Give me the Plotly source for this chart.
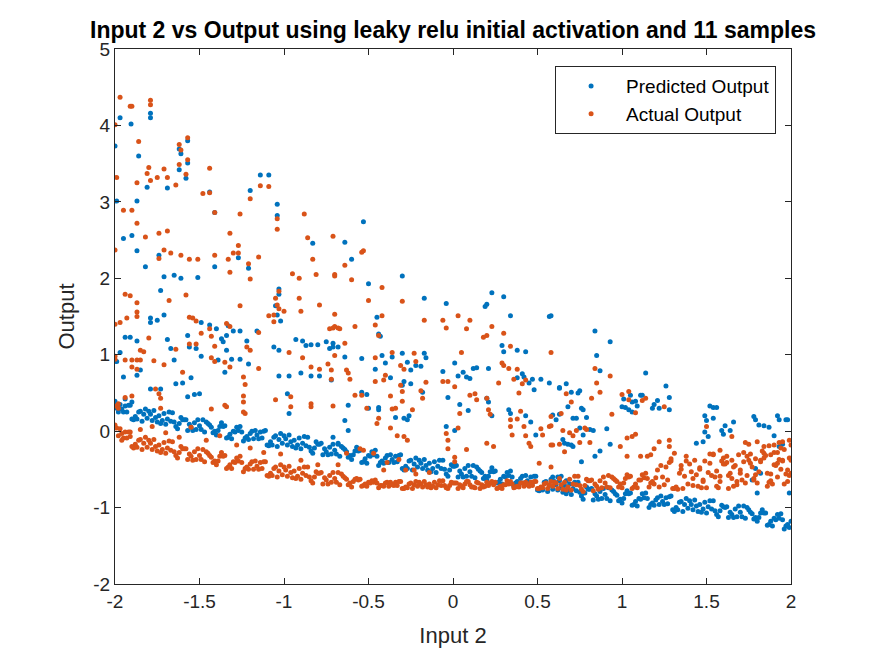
import plotly.graph_objects as go

# Predicted output: points scattered above the main band
pred_upper = [
    (-1.97, 4.10), (-1.905, 4.02), (-1.79, 4.16), (-1.79, 4.10), (-2.0, 3.73), (-1.86, 3.60),
    (-1.62, 3.69), (-1.61, 3.63), (-1.57, 3.80), (-1.57, 3.51), (-1.62, 3.42), (-1.58, 3.31),
    (-1.81, 3.19), (-1.69, 3.18), (-1.99, 3.01), (-1.87, 3.01), (-1.95, 2.52), (-1.90, 2.56),
    (-1.87, 2.36), (-1.82, 2.15), (-1.74, 2.30), (-1.71, 2.02), (-1.65, 2.04), (-1.61, 2.00),
    (-1.51, 2.01), (-1.44, 3.13), (-1.41, 2.86), (-1.20, 3.15), (-1.14, 3.35), (-1.09, 3.35),
    (-1.27, 2.27), (-1.41, 2.15), (-1.21, 2.13), (-1.04, 2.97), (-1.04, 2.82), (-0.83, 2.46),
    (-1.73, 1.84), (-1.99, 0.91), (-1.97, 1.03), (-1.94, 1.23), (-1.91, 1.23), (-1.87, 1.18),
    (-1.95, 0.71), (-1.87, 0.73), (-1.85, 0.80), (-1.79, 1.48), (-1.79, 1.42), (-1.75, 1.45),
    (-1.71, 1.52), (-1.69, 1.20), (-1.67, 1.08), (-1.65, 0.93), (-1.64, 0.62), (-1.60, 0.63),
    (-1.57, 1.25), (-1.56, 1.10), (-1.52, 1.08), (-1.55, 0.70), (-1.49, 1.42), (-1.49, 0.98),
    (-1.57, 0.45), (-1.53, 0.48), (-1.50, 0.49), (-1.79, 0.55), (-1.73, 0.55), (-2.0, 0.39),
    (-1.99, 0.30), (-1.94, 0.42), (-1.90, 0.38),
    (-1.44, 1.39), (-1.40, 1.34), (-1.37, 1.21), (-1.34, 1.25), (-1.33, 1.38), (-1.30, 1.31),
    (-1.26, 1.31), (-1.36, 1.17), (-1.34, 1.06), (-1.39, 0.93), (-1.35, 0.77), (-1.31, 0.94),
    (-1.26, 0.94), (-1.22, 1.18), (-1.16, 1.31), (-1.21, 0.88), (-1.06, 1.10), (-1.03, 1.06),
    (-1.03, 1.79), (-1.03, 1.86), (-1.05, 1.64), (-1.04, 1.52), (-1.02, 1.44), (-1.03, 0.72),
    (-0.97, 0.72), (-0.98, 0.49), (-0.97, 0.23), (-0.93, 1.20), (-0.89, 1.18), (-0.87, 1.12),
    (-0.84, 1.13), (-0.80, 1.13), (-0.75, 1.17), (-0.73, 1.08), (-0.71, 1.10), (-0.90, 0.76),
    (-0.84, 0.72), (-0.79, 0.72), (-0.72, 0.67),
    (-0.53, 2.74), (-0.64, 2.47), (-0.60, 2.25), (-0.50, 1.93), (-0.30, 2.03), (-0.17, 1.74),
    (-0.04, 1.67), (0.23, 1.81), (0.30, 1.76), (0.34, 1.51), (0.57, 1.50), (0.19, 1.63),
    (0.20, 1.66), (-0.45, 1.49), (-0.44, 1.27), (-0.43, 1.24), (-0.71, 1.15), (-0.68, 1.10),
    (-0.64, 0.97), (-0.54, 0.95), (-0.46, 0.81), (-0.42, 0.99), (-0.40, 0.89), (-0.36, 0.97),
    (-0.30, 1.02), (-0.27, 0.90), (-0.17, 1.02), (-0.16, 0.96), (-0.25, 0.80), (-0.22, 0.86),
    (-0.19, 0.85), (-0.37, 0.70), (-0.29, 0.65), (-0.30, 0.60), (-0.25, 0.62), (-0.18, 0.51),
    (-0.06, 0.78), (-0.03, 0.44), (0.01, 0.89), (0.03, 0.72), (0.06, 0.77), (0.08, 0.71),
    (0.10, 0.69), (0.12, 0.82), (0.14, 0.83), (0.04, 0.35), (0.09, 0.27), (-0.04, 0.06),
    (0.01, 0.01), (0.20, 0.43), (0.21, 0.38), (0.23, 0.20), (0.21, 0.82), (0.29, 1.12),
    (0.30, 1.04), (0.38, 1.06), (0.43, 1.04), (0.38, 0.70), (0.41, 0.75), (0.42, 0.71),
    (0.45, 0.63), (0.47, 0.68), (0.48, 0.54), (0.52, 0.68), (0.57, 0.63), (0.33, 0.28),
    (0.34, 0.23), (0.43, 0.20), (0.46, 0.12), (0.49, -0.05), (0.63, 0.56), (0.63, 0.22),
    (-0.62, 0.34), (-0.64, 0.14), (-0.62, 0.01), (-0.54, 0.51), (-0.51, 0.48), (-0.50, 0.30),
    (-0.44, 0.31), (-0.44, 0.28), (-0.34, 0.18), (-0.29, 0.17), (-0.26, 0.20), (-0.27, 0.15),
    (-0.71, -0.08), (-0.68, -0.16),
    (0.58, 1.51), (0.84, 1.31), (0.85, 0.99), (0.87, 0.79), (0.93, 1.17), (1.14, 0.76),
    (1.26, 0.59), (1.28, 0.44), (1.28, 0.28), (1.21, 0.40), (1.19, 0.35), (1.18, 0.30),
    (1.22, 0.30), (1.11, 0.47), (1.12, 0.47), (1.08, 0.39), (1.09, 0.33), (1.06, 0.38),
    (1.02, 0.31), (1.05, 0.47), (1.01, 0.42), (1.00, 0.32), (1.04, 0.28), (1.06, 0.25),
    (0.59, 0.21), (0.61, 0.15), (0.63, 0.57), (0.67, 0.62), (0.70, 0.51), (0.75, 0.53),
    (0.74, 0.50), (0.68, 0.32), (0.71, 0.17), (0.73, 0.17), (0.76, 0.30), (0.77, 0.28),
    (0.79, 0.18), (0.75, 0.04), (0.77, -0.05), (0.81, 0.02), (0.83, 0.01), (0.65, -0.11),
    (0.66, -0.16), (0.68, -0.17), (0.70, -0.18), (0.71, -0.20), (0.84, -0.33), (0.91, 0.03),
    (0.93, -0.17), (0.87, -0.26), (0.76, -0.40), (0.59, -0.60), (0.62, -0.60), (0.64, -0.59),
    (0.67, -0.65),
    (1.49, 0.20), (1.52, 0.33), (1.54, 0.31), (1.56, 0.31), (1.54, 0.17), (1.50, 0.14),
    (1.49, -0.01), (1.48, -0.14), (1.44, -0.16), (1.51, -0.07), (1.59, 0.01), (1.61, 0.07),
    (1.66, 0.12), (1.64, 0.01), (1.60, -0.04), (1.78, 0.19), (1.79, 0.15), (1.81, 0.08),
    (1.84, 0.07), (1.87, 0.05), (1.92, 0.20), (1.93, 0.15), (1.97, 0.15), (1.98, 0.15),
    (1.90, -0.06), (1.93, -0.20), (1.95, -0.17), (1.79, -0.49), (1.82, -0.55), (1.77, -0.64),
    (1.80, -0.81), (1.99, -0.81),
]

# Predicted output: dense descending band
pred_band = [
    (-1.99, 0.34), (-1.95, 0.25), (-1.91, 0.34), (-1.87, 0.16), (-1.83, 0.22), (-1.79, 0.22),
    (-1.75, 0.12), (-1.71, 0.23), (-1.67, 0.13), (-1.63, 0.03), (-1.59, 0.15), (-1.55, 0.05),
    (-1.51, 0.15), (-1.47, -0.01), (-1.43, 0.05), (-1.39, 0.01), (-1.35, 0.07), (-1.31, -0.10),
    (-1.27, 0.01), (-1.23, -0.09), (-1.19, 0.00), (-1.15, -0.10), (-1.11, 0.01), (-1.07, -0.18),
    (-1.03, -0.11), (-0.99, -0.10), (-0.95, -0.20), (-0.91, -0.09), (-0.87, -0.19), (-0.83, -0.29),
    (-0.79, -0.17), (-0.75, -0.27), (-0.71, -0.17), (-0.67, -0.33), (-0.63, -0.27), (-0.59, -0.31),
    (-0.55, -0.25), (-0.51, -0.42), (-0.47, -0.31), (-0.43, -0.41), (-0.39, -0.32), (-0.35, -0.41),
    (-0.31, -0.31), (-0.27, -0.49), (-0.23, -0.43), (-0.19, -0.42), (-0.15, -0.51), (-0.11, -0.40),
    (-0.07, -0.49), (-0.03, -0.59), (0.01, -0.46), (0.05, -0.56), (0.09, -0.45), (0.13, -0.61),
    (0.17, -0.54), (0.21, -0.59), (0.25, -0.52), (0.29, -0.69), (0.33, -0.58), (0.37, -0.68),
    (0.41, -0.59), (0.45, -0.69), (0.49, -0.59), (0.53, -0.77), (0.57, -0.71), (0.61, -0.70),
    (0.65, -0.80), (0.69, -0.69), (0.73, -0.78), (0.77, -0.89), (0.81, -0.76), (0.85, -0.85),
    (0.89, -0.75), (0.93, -0.91), (0.97, -0.84), (1.01, -0.88), (1.05, -0.81), (1.09, -0.98),
    (1.13, -0.87), (1.17, -0.96), (1.21, -0.87), (1.25, -0.96), (1.29, -0.85), (1.33, -1.03),
    (1.37, -0.96), (1.41, -0.96), (1.45, -1.05), (1.49, -0.93), (1.53, -1.02), (1.57, -1.12),
    (1.61, -1.00), (1.65, -1.09), (1.69, -0.98), (1.73, -1.14), (1.77, -1.08), (1.81, -1.13),
    (1.85, -1.07), (1.89, -1.24), (1.93, -1.14), (1.97, -1.24),
    (-1.97, 0.35), (-1.93, 0.25), (-1.89, 0.15), (-1.85, 0.26), (-1.81, 0.17), (-1.77, 0.27),
    (-1.73, 0.10), (-1.69, 0.16), (-1.65, 0.12), (-1.61, 0.18), (-1.57, 0.01), (-1.53, 0.11),
    (-1.49, 0.02), (-1.45, 0.10), (-1.41, 0.00), (-1.37, 0.11), (-1.33, -0.08), (-1.29, -0.01),
    (-1.25, -0.01), (-1.21, -0.11), (-1.17, 0.01), (-1.13, -0.09), (-1.09, -0.19), (-1.05, -0.06),
    (-1.01, -0.16), (-0.97, -0.05), (-0.93, -0.22), (-0.89, -0.16), (-0.85, -0.21), (-0.81, -0.14),
    (-0.77, -0.31), (-0.73, -0.21), (-0.69, -0.30), (-0.65, -0.22), (-0.61, -0.32), (-0.57, -0.21),
    (-0.53, -0.40), (-0.49, -0.33), (-0.45, -0.33), (-0.41, -0.42), (-0.37, -0.31), (-0.33, -0.40),
    (-0.29, -0.51), (-0.25, -0.38), (-0.21, -0.47), (-0.17, -0.37), (-0.13, -0.53), (-0.09, -0.46),
    (-0.05, -0.50), (-0.01, -0.44), (0.03, -0.60), (0.07, -0.49), (0.11, -0.59), (0.15, -0.50),
    (0.19, -0.59), (0.23, -0.48), (0.27, -0.67), (0.31, -0.60), (0.35, -0.60), (0.39, -0.70),
    (0.43, -0.58), (0.47, -0.68), (0.51, -0.78), (0.55, -0.66), (0.59, -0.76), (0.63, -0.65),
    (0.67, -0.82), (0.71, -0.75), (0.75, -0.80), (0.79, -0.73), (0.83, -0.90), (0.87, -0.79),
    (0.91, -0.88), (0.95, -0.79), (0.99, -0.89), (1.03, -0.78), (1.07, -0.96), (1.11, -0.89),
    (1.15, -0.88), (1.19, -0.97), (1.23, -0.85), (1.27, -0.95), (1.31, -1.05), (1.35, -0.92),
    (1.39, -1.01), (1.43, -0.90), (1.47, -1.06), (1.51, -0.99), (1.55, -1.04), (1.59, -0.97),
    (1.63, -1.13), (1.67, -1.02), (1.71, -1.12), (1.75, -1.03), (1.79, -1.13), (1.83, -1.03),
    (1.87, -1.22), (1.91, -1.16), (1.95, -1.16), (1.99, -1.26),
    (-1.98, 0.25), (-1.94, 0.33), (-1.90, 0.16), (-1.86, 0.25), (-1.82, 0.29), (-1.78, 0.14),
    (-1.74, 0.20), (-1.70, 0.09), (-1.66, 0.24), (-1.62, 0.10), (-1.58, 0.15), (-1.54, 0.01),
    (-1.50, 0.07), (-1.46, 0.12), (-1.42, -0.02), (-1.38, 0.06), (-1.34, -0.09), (-1.30, 0.00),
    (-1.26, 0.06), (-1.22, -0.07), (-1.18, -0.10), (-1.14, -0.01), (-1.10, -0.18), (-1.06, -0.08),
    (-1.02, -0.03), (-0.98, -0.18), (-0.94, -0.12), (-0.90, -0.23), (-0.86, -0.08), (-0.82, -0.22),
    (-0.78, -0.16), (-0.74, -0.31), (-0.70, -0.25), (-0.66, -0.20), (-0.62, -0.34), (-0.58, -0.26),
    (-0.54, -0.41), (-0.50, -0.32), (-0.46, -0.25), (-0.42, -0.39), (-0.38, -0.41), (-0.34, -0.33),
    (-0.30, -0.49), (-0.26, -0.39), (-0.22, -0.35), (-0.18, -0.49), (-0.14, -0.42), (-0.10, -0.54),
    (-0.06, -0.38), (-0.02, -0.51), (0.02, -0.45), (0.06, -0.60), (0.10, -0.53), (0.14, -0.47),
    (0.18, -0.62), (0.22, -0.53), (0.26, -0.68), (0.30, -0.59), (0.34, -0.52), (0.38, -0.66),
    (0.42, -0.68), (0.46, -0.60), (0.50, -0.77), (0.54, -0.67), (0.58, -0.63), (0.62, -0.77),
    (0.66, -0.71), (0.70, -0.83), (0.74, -0.67), (0.78, -0.81), (0.82, -0.75), (0.86, -0.89),
    (0.90, -0.83), (0.94, -0.77), (0.98, -0.91), (1.02, -0.82), (1.06, -0.97), (1.10, -0.88),
    (1.14, -0.81), (1.18, -0.94), (1.22, -0.96), (1.26, -0.87), (1.30, -1.03), (1.34, -0.93),
    (1.38, -0.88), (1.42, -1.03), (1.46, -0.96), (1.50, -1.07), (1.54, -0.91), (1.58, -1.04),
    (1.62, -0.99), (1.66, -1.13), (1.70, -1.06), (1.74, -1.00), (1.78, -1.15), (1.82, -1.07),
    (1.86, -1.23), (1.90, -1.14), (1.94, -1.08), (1.98, -1.22),
    (-1.96, 0.29), (-1.92, 0.34), (-1.88, 0.19), (-1.84, 0.13), (-1.80, 0.26), (-1.76, 0.18),
    (-1.72, 0.14), (-1.68, 0.25), (-1.64, 0.06), (-1.60, 0.15), (-1.56, 0.09), (-1.52, 0.02),
    (-1.48, 0.15), (-1.44, 0.08), (-1.40, -0.05), (-1.36, 0.06), (-1.32, -0.04), (-1.28, 0.05),
    (-1.24, -0.13), (-1.20, -0.03), (-1.16, -0.05), (-1.12, 0.00), (-1.08, -0.14), (-1.04, -0.20),
    (-1.00, -0.06), (-0.96, -0.14), (-0.92, -0.18), (-0.88, -0.07), (-0.84, -0.26), (-0.80, -0.17),
    (-0.76, -0.23), (-0.72, -0.30), (-0.68, -0.17), (-0.64, -0.24), (-0.60, -0.37), (-0.56, -0.26),
    (-0.52, -0.36), (-0.48, -0.27), (-0.44, -0.45), (-0.40, -0.35), (-0.36, -0.37), (-0.32, -0.32),
    (-0.28, -0.46), (-0.24, -0.51), (-0.20, -0.38), (-0.16, -0.45), (-0.12, -0.49), (-0.08, -0.38),
    (-0.04, -0.56), (0.00, -0.46), (0.04, -0.52), (0.08, -0.59), (0.12, -0.45), (0.16, -0.52),
    (0.20, -0.64), (0.24, -0.53), (0.28, -0.63), (0.32, -0.54), (0.36, -0.72), (0.40, -0.62),
    (0.44, -0.65), (0.48, -0.59), (0.52, -0.74), (0.56, -0.79), (0.60, -0.66), (0.64, -0.74),
    (0.68, -0.78), (0.72, -0.67), (0.76, -0.85), (0.80, -0.76), (0.84, -0.82), (0.88, -0.88),
    (0.92, -0.74), (0.96, -0.82), (1.00, -0.94), (1.04, -0.82), (1.08, -0.92), (1.12, -0.82),
    (1.16, -1.00), (1.20, -0.90), (1.24, -0.92), (1.28, -0.86), (1.32, -1.00), (1.36, -1.05),
    (1.40, -0.91), (1.44, -0.98), (1.48, -1.02), (1.52, -0.91), (1.56, -1.09), (1.60, -0.99),
    (1.64, -1.06), (1.68, -1.12), (1.72, -0.98), (1.76, -1.06), (1.80, -1.18), (1.84, -1.07),
    (1.88, -1.18), (1.92, -1.09), (1.96, -1.28), (2.00, -1.18),
]

# Actual output: points scattered above the main band
act_upper = [
    (-1.97, 4.37), (-1.91, 4.25), (-1.90, 4.25), (-1.79, 4.33), (-1.79, 4.27), (-2.0, 4.01),
    (-1.86, 3.79), (-1.62, 3.75), (-1.61, 3.68), (-1.57, 3.84), (-1.57, 3.55), (-1.62, 3.49),
    (-1.58, 3.36), (-1.80, 3.45), (-1.81, 3.37), (-1.79, 3.28), (-1.71, 3.43), (-1.69, 3.32),
    (-1.75, 3.32), (-1.64, 3.22), (-1.99, 3.32), (-1.87, 3.25), (-1.95, 2.89), (-1.90, 2.89),
    (-1.87, 2.72), (-1.82, 2.54), (-2.0, 2.37), (-1.74, 2.59), (-1.69, 2.62), (-1.74, 2.26),
    (-1.71, 2.37), (-1.67, 2.33), (-1.61, 2.30), (-1.56, 2.25), (-1.51, 2.25), (-1.44, 3.44),
    (-1.48, 3.11), (-1.44, 3.12), (-1.41, 2.86), (-1.26, 2.84), (-1.20, 3.04), (-1.14, 3.21),
    (-1.09, 3.20), (-1.32, 2.59), (-1.27, 2.43), (-1.27, 2.33), (-1.30, 2.33), (-1.33, 2.25),
    (-1.41, 2.30), (-1.32, 2.08), (-1.21, 2.19), (-1.20, 1.99), (-1.15, 2.28), (-1.04, 2.78),
    (-1.04, 2.64), (-0.88, 2.84), (-0.86, 2.53), (-0.83, 2.25), (-0.71, 2.55), (-0.95, 2.06),
    (-0.91, 2.00), (-0.81, 2.05), (-0.70, 2.03),
    (-1.94, 1.79), (-1.91, 1.77), (-1.87, 1.68), (-1.87, 1.56), (-1.87, 1.50), (-2.0, 1.40),
    (-1.97, 1.42), (-1.93, 1.48), (-2.0, 0.98), (-2.0, 0.94), (-1.94, 0.93), (-1.90, 0.93),
    (-1.87, 0.93), (-1.85, 0.93), (-1.85, 1.06), (-1.83, 1.04), (-1.90, 0.84), (-1.87, 0.81),
    (-1.80, 1.22), (-1.77, 0.92), (-1.68, 1.71), (-1.71, 0.87), (-1.58, 1.78), (-1.64, 1.07),
    (-1.56, 1.49), (-1.54, 1.48), (-1.56, 1.14), (-1.52, 1.14), (-1.60, 0.77), (-1.52, 1.44),
    (-1.49, 1.28), (-1.44, 1.34), (-1.43, 1.24), (-1.41, 1.11), (-1.43, 0.96), (-1.41, 0.91),
    (-1.34, 1.41), (-1.32, 1.37), (-1.35, 0.90), (-1.32, 0.84), (-1.22, 1.10), (-1.20, 1.06),
    (-1.26, 1.64), (-1.15, 1.29), (-1.15, 0.82), (-1.24, 0.71), (-1.23, 0.61), (-1.24, 0.46),
    (-1.24, 0.38), (-1.24, 0.25), (-1.23, 0.23), (-1.35, 0.34), (-1.34, 0.32), (-1.43, 0.29),
    (-1.76, 0.55), (-1.74, 0.49), (-1.73, 0.43), (-1.73, 0.30), (-1.94, 0.44), (-1.90, 0.46),
    (-2.0, 0.33), (-1.98, 0.30), (-1.98, 0.36), (-2.0, 0.08), (-1.96, -0.12), (-1.91, -0.07),
    (-1.09, 1.51), (-1.06, 1.43), (-1.06, 1.52), (-1.05, 1.74), (-1.04, 1.65), (-1.03, 1.83),
    (-1.03, 1.60), (-1.00, 1.57), (-1.05, 0.41), (-0.96, 0.45), (-0.96, 0.32), (-0.91, 1.74),
    (-0.90, 1.57), (-0.79, 1.65), (-0.73, 1.34), (-0.70, 1.37), (-0.67, 1.34), (-0.97, 1.03),
    (-0.89, 0.96), (-0.84, 0.84), (-0.79, 0.81), (-0.74, 0.88), (-0.72, 0.80), (-0.70, 0.99),
    (-0.84, 0.36), (-0.84, 0.32), (-0.71, 0.33),
    (-0.70, 2.05), (-0.64, 2.17), (-0.60, 1.98), (-0.54, 2.34), (-0.53, 2.36), (-0.50, 1.71),
    (-0.42, 1.88), (-0.30, 1.70), (-0.17, 1.45), (-0.06, 1.45), (-0.04, 1.35), (0.03, 1.51),
    (0.10, 1.45), (0.08, 1.34), (0.18, 1.23), (0.20, 1.25), (0.23, 1.37), (0.30, 1.28),
    (0.34, 1.11), (0.05, 1.03), (-0.70, 1.53), (-0.71, 1.35), (-0.68, 1.35), (-0.58, 1.37),
    (-0.46, 1.39), (-0.44, 1.25), (-0.42, 1.51), (-0.64, 1.15), (-0.63, 0.80), (-0.62, 0.76),
    (-0.61, 0.68), (-0.72, 0.68), (-0.58, 0.47), (-0.54, 0.47), (-0.46, 0.96), (-0.46, 0.65),
    (-0.40, 0.73), (-0.41, 0.67), (-0.36, 1.03), (-0.37, 0.46), (-0.36, 0.29), (-0.31, 0.86),
    (-0.29, 0.81), (-0.31, 0.60), (-0.30, 0.52), (-0.30, 0.39), (-0.23, 1.02), (-0.22, 0.91),
    (-0.19, 0.53), (-0.18, 0.43), (-0.16, 0.64), (-0.34, 0.30), (-0.24, 0.28), (-0.44, 0.17),
    (-0.45, 0.10), (-0.51, 0.30), (-0.37, 0.04), (-0.33, -0.06), (-0.29, -0.07), (-0.27, -0.12),
    (-0.06, 0.65), (-0.03, 0.65), (0.01, 0.58), (0.10, 0.47), (0.13, 0.49), (0.14, 0.41),
    (0.04, 0.23), (0.03, 0.04), (0.08, -0.24), (-0.04, -0.03), (-0.03, -0.12), (-0.03, -0.23),
    (0.01, -0.34), (0.20, 0.43), (0.21, 0.28), (0.22, 0.22), (0.20, -0.16), (0.24, -0.20),
    (0.27, 0.63), (0.29, 0.89), (0.30, 0.86), (0.33, 0.82), (0.38, 0.81), (0.36, 0.68),
    (0.43, 0.67), (0.41, 0.62), (0.39, 0.50), (0.40, 0.26), (0.34, 0.15), (0.38, 0.16),
    (0.34, 0.06), (0.35, -0.05), (0.42, 0.06), (0.43, -0.06), (0.45, -0.16), (0.46, -0.20),
    (0.52, 0.03), (0.53, -0.05), (0.58, 0.19), (0.58, 0.07), (0.58, -0.18), (0.51, -0.42),
    (0.58, -0.47), (-0.63, -0.29), (-0.55, -0.23), (-0.53, -0.25), (-0.68, -0.44), (-0.47, -0.29),
    (-0.39, -0.41), (-0.41, -0.51), (-0.32, -0.37), (-0.28, -0.51), (-0.22, -0.56), (-0.23, -0.51),
    (-0.14, -0.54), (0.01, -0.40),
    (0.58, 1.03), (0.84, 0.82), (0.85, 0.63), (0.87, 0.51), (0.93, 0.72), (0.94, 0.22),
    (0.82, 0.43), (0.67, 0.49), (0.70, 0.38), (0.57, 0.06), (0.59, -0.18), (0.63, -0.17),
    (0.66, -0.27), (0.64, 0.23), (0.65, 0.01), (0.69, -0.02), (0.71, -0.06), (0.73, 0.01),
    (0.78, 0.04), (0.79, 0.02), (0.81, -0.15), (0.75, -0.15), (1.00, 0.48), (1.04, 0.52),
    (1.04, 0.41), (1.08, 0.24), (1.12, 0.40), (1.14, 0.43), (1.03, -0.09), (1.06, -0.07),
    (1.08, -0.04), (0.99, -0.20), (1.03, -0.33), (1.11, -0.33), (1.15, -0.33), (1.17, -0.31),
    (1.19, -0.23), (1.22, -0.14), (1.28, -0.12), (1.28, -0.20), (1.31, -0.29), (1.29, -0.36),
    (1.25, 0.32), (1.50, 0.06), (1.65, -0.07), (1.54, -0.31), (1.58, -0.25), (1.62, -0.33),
    (1.65, -0.38), (1.73, -0.15), (1.75, -0.17), (1.80, -0.14), (1.84, -0.20), (1.87, -0.19),
    (1.90, -0.18), (1.93, -0.15), (1.95, -0.14), (1.99, -0.12), (2.0, -0.18), (1.79, -0.36),
    (1.84, -0.29), (1.88, -0.31), (1.92, -0.42), (1.95, -0.38), (2.0, -0.55),
]

# Actual output: dense lower band
act_band = [
    (-1.99, 0.04), (-1.95, -0.09), (-1.91, -0.01), (-1.87, -0.21), (-1.83, -0.16), (-1.79, -0.16),
    (-1.75, -0.26), (-1.71, -0.15), (-1.67, -0.25), (-1.63, -0.35), (-1.59, -0.23), (-1.55, -0.33),
    (-1.51, -0.23), (-1.47, -0.40), (-1.43, -0.34), (-1.39, -0.39), (-1.35, -0.32), (-1.31, -0.49),
    (-1.27, -0.39), (-1.23, -0.49), (-1.19, -0.40), (-1.15, -0.50), (-1.11, -0.40), (-1.07, -0.58),
    (-1.03, -0.52), (-0.99, -0.51), (-0.95, -0.61), (-0.91, -0.49), (-0.87, -0.58), (-0.83, -0.68),
    (-0.79, -0.55), (-0.75, -0.64), (-0.71, -0.54), (-0.67, -0.70), (-0.63, -0.63), (-0.59, -0.66),
    (-0.55, -0.63), (-0.51, -0.72), (-0.47, -0.67), (-0.43, -0.71), (-0.39, -0.67), (-0.35, -0.71),
    (-0.31, -0.66), (-0.27, -0.74), (-0.23, -0.70), (-0.19, -0.69), (-0.15, -0.73), (-0.11, -0.67),
    (-0.07, -0.71), (-0.03, -0.75), (0.01, -0.68), (0.05, -0.72), (0.09, -0.66), (0.13, -0.74),
    (0.17, -0.70), (0.21, -0.71), (0.25, -0.67), (0.29, -0.75), (0.33, -0.69), (0.37, -0.73),
    (0.41, -0.68), (0.45, -0.72), (0.49, -0.66), (0.53, -0.74), (0.57, -0.70), (0.61, -0.68),
    (0.65, -0.76), (0.69, -0.63), (0.73, -0.70), (0.77, -0.79), (0.81, -0.65), (0.85, -0.72),
    (0.89, -0.60), (0.93, -0.74), (0.97, -0.66), (1.01, -0.68), (1.05, -0.59), (1.09, -0.74),
    (1.13, -0.61), (1.17, -0.68), (1.21, -0.51), (1.25, -0.70), (1.29, -0.39), (1.33, -0.76),
    (1.37, -0.59), (1.41, -0.53), (1.45, -0.72), (1.49, -0.39), (1.53, -0.58), (1.57, -0.74),
    (1.61, -0.43), (1.65, -0.62), (1.69, -0.31), (1.73, -0.68), (1.77, -0.47), (1.81, -0.53),
    (1.85, -0.32), (1.89, -0.69), (1.93, -0.37), (1.97, -0.56),
    (-1.97, 0.03), (-1.93, -0.09), (-1.89, -0.22), (-1.85, -0.11), (-1.81, -0.21), (-1.77, -0.11),
    (-1.73, -0.28), (-1.69, -0.22), (-1.65, -0.27), (-1.61, -0.20), (-1.57, -0.37), (-1.53, -0.27),
    (-1.49, -0.37), (-1.45, -0.29), (-1.41, -0.39), (-1.37, -0.28), (-1.33, -0.47), (-1.29, -0.41),
    (-1.25, -0.41), (-1.21, -0.50), (-1.17, -0.39), (-1.13, -0.49), (-1.09, -0.59), (-1.05, -0.47),
    (-1.01, -0.57), (-0.97, -0.46), (-0.93, -0.62), (-0.89, -0.55), (-0.85, -0.60), (-0.81, -0.53),
    (-0.77, -0.69), (-0.73, -0.58), (-0.69, -0.67), (-0.65, -0.59), (-0.61, -0.68), (-0.57, -0.62),
    (-0.53, -0.71), (-0.49, -0.68), (-0.45, -0.68), (-0.41, -0.72), (-0.37, -0.67), (-0.33, -0.71),
    (-0.29, -0.75), (-0.25, -0.68), (-0.21, -0.72), (-0.17, -0.66), (-0.13, -0.74), (-0.09, -0.70),
    (-0.05, -0.71), (-0.01, -0.67), (0.03, -0.75), (0.07, -0.69), (0.11, -0.73), (0.15, -0.68),
    (0.19, -0.72), (0.23, -0.66), (0.27, -0.74), (0.31, -0.70), (0.35, -0.69), (0.39, -0.73),
    (0.43, -0.67), (0.47, -0.71), (0.51, -0.75), (0.55, -0.68), (0.59, -0.72), (0.63, -0.62),
    (0.67, -0.77), (0.71, -0.69), (0.75, -0.71), (0.79, -0.63), (0.83, -0.78), (0.87, -0.65),
    (0.91, -0.73), (0.95, -0.62), (0.99, -0.69), (1.03, -0.57), (1.07, -0.73), (1.11, -0.64),
    (1.15, -0.62), (1.19, -0.69), (1.23, -0.45), (1.27, -0.64), (1.31, -0.75), (1.35, -0.50),
    (1.39, -0.69), (1.43, -0.38), (1.47, -0.74), (1.51, -0.54), (1.55, -0.60), (1.59, -0.39),
    (1.63, -0.75), (1.67, -0.45), (1.71, -0.64), (1.75, -0.38), (1.79, -0.57), (1.83, -0.26),
    (1.87, -0.67), (1.91, -0.45), (1.95, -0.39), (1.99, -0.58),
    (-1.98, -0.06), (-1.94, -0.01), (-1.90, -0.20), (-1.86, -0.12), (-1.82, -0.08), (-1.78, -0.24),
    (-1.74, -0.18), (-1.70, -0.29), (-1.66, -0.14), (-1.62, -0.28), (-1.58, -0.23), (-1.54, -0.38),
    (-1.50, -0.32), (-1.46, -0.27), (-1.42, -0.41), (-1.38, -0.33), (-1.34, -0.49), (-1.30, -0.40),
    (-1.26, -0.33), (-1.22, -0.47), (-1.18, -0.50), (-1.14, -0.41), (-1.10, -0.58), (-1.06, -0.49),
    (-1.02, -0.44), (-0.98, -0.59), (-0.94, -0.52), (-0.90, -0.63), (-0.86, -0.47), (-0.82, -0.60),
    (-0.78, -0.54), (-0.74, -0.69), (-0.70, -0.62), (-0.66, -0.56), (-0.62, -0.70), (-0.58, -0.63),
    (-0.54, -0.72), (-0.50, -0.67), (-0.46, -0.64), (-0.42, -0.71), (-0.38, -0.72), (-0.34, -0.67),
    (-0.30, -0.75), (-0.26, -0.69), (-0.22, -0.66), (-0.18, -0.73), (-0.14, -0.69), (-0.10, -0.74),
    (-0.06, -0.65), (-0.02, -0.71), (0.02, -0.68), (0.06, -0.74), (0.10, -0.70), (0.14, -0.67),
    (0.18, -0.73), (0.22, -0.68), (0.26, -0.75), (0.30, -0.70), (0.34, -0.66), (0.38, -0.72),
    (0.42, -0.72), (0.46, -0.67), (0.50, -0.75), (0.54, -0.69), (0.58, -0.66), (0.62, -0.75),
    (0.66, -0.67), (0.70, -0.77), (0.74, -0.59), (0.78, -0.71), (0.82, -0.64), (0.86, -0.76),
    (0.90, -0.68), (0.94, -0.60), (0.98, -0.73), (1.02, -0.62), (1.06, -0.75), (1.10, -0.64),
    (1.14, -0.55), (1.18, -0.66), (1.22, -0.73), (1.26, -0.47), (1.30, -0.75), (1.34, -0.55),
    (1.38, -0.39), (1.42, -0.71), (1.46, -0.50), (1.50, -0.74), (1.54, -0.30), (1.58, -0.59),
    (1.62, -0.41), (1.66, -0.72), (1.70, -0.51), (1.74, -0.33), (1.78, -0.64), (1.82, -0.38),
    (1.86, -0.72), (1.90, -0.44), (1.94, -0.22), (1.98, -0.51),
    (-1.96, -0.03), (-1.92, -0.01), (-1.88, -0.17), (-1.84, -0.24), (-1.80, -0.12), (-1.76, -0.20),
    (-1.72, -0.24), (-1.68, -0.13), (-1.64, -0.32), (-1.60, -0.23), (-1.56, -0.30), (-1.52, -0.37),
    (-1.48, -0.24), (-1.44, -0.32), (-1.40, -0.44), (-1.36, -0.33), (-1.32, -0.44), (-1.28, -0.35),
    (-1.24, -0.53), (-1.20, -0.43), (-1.16, -0.46), (-1.12, -0.40), (-1.08, -0.55), (-1.04, -0.60),
    (-1.00, -0.47), (-0.96, -0.54), (-0.92, -0.59), (-0.88, -0.47), (-0.84, -0.65), (-0.80, -0.55),
    (-0.76, -0.61), (-0.72, -0.67), (-0.68, -0.54), (-0.64, -0.61), (-0.60, -0.73), (-0.56, -0.64),
    (-0.52, -0.69), (-0.48, -0.65), (-0.44, -0.74), (-0.40, -0.68), (-0.36, -0.70), (-0.32, -0.66),
    (-0.28, -0.73), (-0.24, -0.75), (-0.20, -0.67), (-0.16, -0.70), (-0.12, -0.72), (-0.08, -0.65),
    (-0.04, -0.74), (0.00, -0.68), (0.04, -0.70), (0.08, -0.66), (0.12, -0.73), (0.16, -0.75),
    (0.20, -0.67), (0.24, -0.70), (0.28, -0.72), (0.32, -0.65), (0.36, -0.74), (0.40, -0.68),
    (0.44, -0.70), (0.48, -0.66), (0.52, -0.73), (0.56, -0.75), (0.60, -0.67), (0.64, -0.70),
    (0.68, -0.73), (0.72, -0.59), (0.76, -0.76), (0.80, -0.65), (0.84, -0.69), (0.88, -0.74),
    (0.92, -0.58), (0.96, -0.64), (1.00, -0.74), (1.04, -0.60), (1.08, -0.69), (1.12, -0.57),
    (1.16, -0.73), (1.20, -0.61), (1.24, -0.60), (1.28, -0.41), (1.32, -0.73), (1.36, -0.75),
    (1.40, -0.43), (1.44, -0.57), (1.48, -0.64), (1.52, -0.30), (1.56, -0.72), (1.60, -0.43),
    (1.64, -0.55), (1.68, -0.66), (1.72, -0.28), (1.76, -0.42), (1.80, -0.68), (1.84, -0.35),
    (1.88, -0.56), (1.92, -0.28), (1.96, -0.69), (2.00, -0.38),
    (1.35, -0.45), (1.38, -0.33), (1.42, -0.62), (1.46, -0.48), (1.48, -0.66), (1.52, -0.42),
    (1.56, -0.52), (1.58, -0.66), (1.60, -0.35), (1.63, -0.58), (1.66, -0.47), (1.68, -0.70),
    (1.70, -0.55), (1.72, -0.40), (1.74, -0.58), (1.76, -0.30), (1.78, -0.62), (1.82, -0.40),
    (1.86, -0.55), (1.88, -0.65), (1.90, -0.28), (1.92, -0.60), (1.94, -0.50), (1.96, -0.24),
    (1.98, -0.66), (1.99, -0.35),
    (-1.85, 0.02), (-1.78, 0.06), (-1.70, -0.02), (-1.62, -0.08), (-1.55, 0.05), (-1.46, -0.12),
    (-1.38, -0.06), (-1.28, -0.18), (-1.20, -0.22), (-1.12, -0.28), (-1.02, -0.30), (-0.90, -0.38),
    (-0.80, -0.44),
]

x_ticks = [-2, -1.5, -1, -0.5, 0, 0.5, 1, 1.5, 2]
x_tick_text = ["-2", "-1.5", "-1", "-0.5", "0", "0.5", "1", "1.5", "2"]
y_ticks = [-2, -1, 0, 1, 2, 3, 4, 5]
y_tick_text = ["-2", "-1", "0", "1", "2", "3", "4", "5"]

pred_x, pred_y = zip(*(pred_upper + pred_band))
act_x, act_y = zip(*(act_upper + act_band))

fig = go.Figure()
fig.add_trace(go.Scatter(x=pred_x, y=pred_y, mode="markers", name="Predicted Output",
                         marker=dict(color="#0072BD", size=5)))
fig.add_trace(go.Scatter(x=act_x, y=act_y, mode="markers", name="Actual Output",
                         marker=dict(color="#D95319", size=5)))

axis_style = dict(ticks="inside", ticklen=6, tickcolor="#262626", showline=True,
                  linecolor="#262626", linewidth=1, mirror="ticks", showgrid=False,
                  zeroline=False, tickfont=dict(size=19, color="#262626"))

fig.update_xaxes(range=[-2, 2], tickvals=x_ticks, ticktext=x_tick_text,
                 title=dict(text="Input 2", font=dict(size=22, color="#262626"), standoff=16),
                 **axis_style)
fig.update_yaxes(range=[-2, 5], tickvals=y_ticks, ticktext=y_tick_text,
                 title=dict(text="Output", font=dict(size=22, color="#262626"), standoff=12),
                 **axis_style)

# page body adds an 8px offset, so the figure is a little smaller than the window
fig.update_layout(
    width=867, height=648,
    margin=dict(l=107, r=84, t=41, b=72),
    paper_bgcolor="white", plot_bgcolor="white",
    font=dict(family="Liberation Sans, Arial, sans-serif", color="#262626"),
    title=dict(text="<b>Input 2 vs Output using leaky relu initial activation and 11 samples</b>",
               x=0.5, xref="paper", xanchor="center", y=1 - 22 / 648, yref="container",
               yanchor="middle", font=dict(size=23, color="black")),
    legend=dict(x=0.651, y=0.968, xanchor="left", yanchor="top", bgcolor="white",
                bordercolor="#262626", borderwidth=1, font=dict(size=19, color="black"),
                itemwidth=60),
    showlegend=True,
)

fig.write_html("out.html")
